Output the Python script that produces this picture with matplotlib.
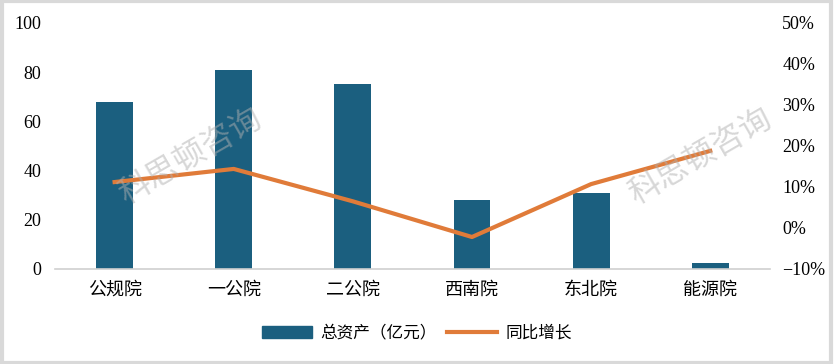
import matplotlib
matplotlib.use("Agg")
from matplotlib import pyplot as plt
from matplotlib.patches import Rectangle
from matplotlib.lines import Line2D
import numpy as np

categories = ["公规院", "一公院", "二公院", "西南院", "东北院", "能源院"]
total_assets = [68, 81, 75, 28, 31, 2.5]          # 亿元
yoy_growth = [11.2, 14.4, 6.5, -2.2, 10.7, 18.8]   # %
left_ticks = [0, 20, 40, 60, 80, 100]
right_ticks = [-10, 0, 10, 20, 30, 40, 50]

FONT = ["Liberation Serif", "Noto Sans CJK SC", "DejaVu Sans"]
plt.rcParams["font.family"] = FONT

BAR_COLOR = "#1b5f7f"
LINE_COLOR = "#e07b39"

fig = plt.figure(figsize=(8.34, 3.64), dpi=100)
ax = fig.add_axes([0.066, 0.261, 0.857, 0.676])
x = np.arange(len(categories))

ax.bar(x, total_assets, width=0.31, color=BAR_COLOR, zorder=2)
ax.set_xlim(-0.5, len(categories) - 0.5)
ax.set_ylim(0, 100)
ax.set_yticks(left_ticks)
ax.set_xticks(x)
ax.set_xticklabels(categories, fontsize=13)
ax.tick_params(axis="y", labelsize=13, length=0, pad=10)
ax.tick_params(axis="x", length=0, pad=9)
for s in ["top", "right", "left"]:
    ax.spines[s].set_visible(False)
ax.spines["bottom"].set_color("#d0d0d0")
ax.spines["bottom"].set_linewidth(1.2)

ax2 = ax.twinx()
ax2.plot(x, yoy_growth, color=LINE_COLOR, linewidth=3, zorder=3)
ax2.set_ylim(-10, 50)
ax2.set_yticks(right_ticks)
ax2.set_yticklabels(["\u221210%" if v < 0 else f"{v}%" for v in right_ticks])
ax2.tick_params(axis="y", labelsize=13, length=0, pad=9)
for s in ["top", "right", "left", "bottom"]:
    ax2.spines[s].set_visible(False)

# watermark
for wx, wy in [(0.228, 0.57), (0.84, 0.57)]:
    fig.text(wx, wy, "科思顿咨询", fontsize=23, color="#b0b0b0", alpha=0.5,
             rotation=30, ha="center", va="center",
             family=["Noto Sans CJK SC", "DejaVu Sans"], zorder=5)

handles = [Rectangle((0, 0), 1, 1, color=BAR_COLOR),
           Line2D([0], [0], color=LINE_COLOR, linewidth=3)]
fig.legend(handles, ["总资产（亿元）", "同比增长"], loc="center",
           bbox_to_anchor=(0.5, 0.085), ncol=2, frameon=False,
           handlelength=3.0, handleheight=0.7, columnspacing=0.6,
           handletextpad=0.5, prop={"family": ["Noto Sans CJK SC", "DejaVu Sans"], "size": 12})

# outer frame
fig.patches.append(Rectangle((0.002, 0.004), 0.994, 0.992, transform=fig.transFigure,
                             fill=False, edgecolor="#d9d9d9", linewidth=3))

fig.savefig("out.png", dpi=100)
